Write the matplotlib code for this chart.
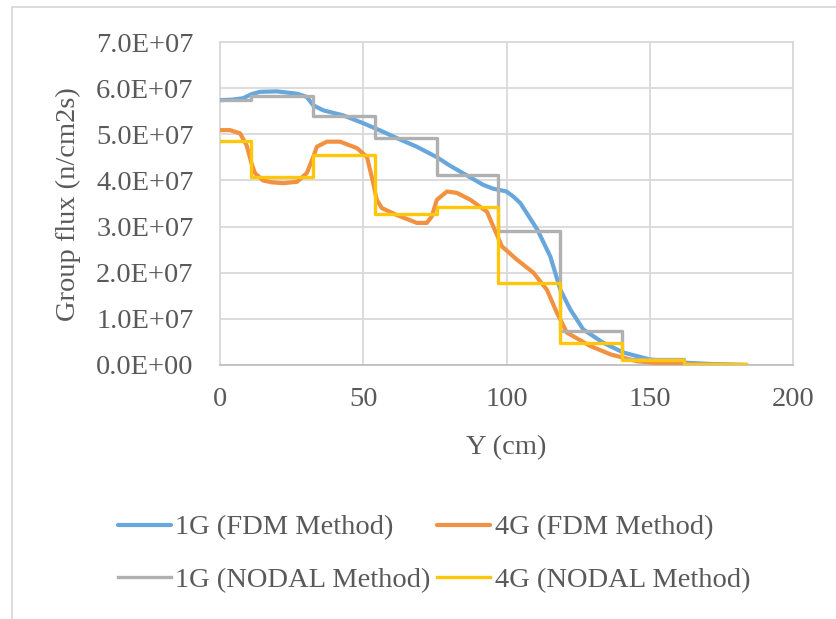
import numpy as np
import matplotlib
matplotlib.use("Agg")
import matplotlib.pyplot as plt
from matplotlib.lines import Line2D
from matplotlib.ticker import FuncFormatter, MultipleLocator

# 1G FDM (blue)
fdm1_x = [0, 4, 8, 11, 14, 19.8, 26.8, 30.3, 32.5, 36, 43, 50, 56, 62, 68.7, 75.8,
          80, 85, 92, 95.4, 97.8, 100, 102.4, 104.8, 107.5, 110.8, 115.3, 118.8,
          122.3, 126.8, 133.8, 140.8, 150, 162, 172, 183.6]
fdm1_y = [5.74, 5.75, 5.78, 5.87, 5.92, 5.93, 5.88, 5.81, 5.63, 5.52, 5.41, 5.24,
          5.08, 4.91, 4.73, 4.50, 4.33, 4.15, 3.90, 3.82, 3.79, 3.76, 3.65, 3.51,
          3.25, 2.93, 2.35, 1.63, 1.20, 0.77, 0.48, 0.27, 0.12, 0.05, 0.02, 0.0]

# 4G FDM (orange)
fdm4_x = [0, 3.5, 7, 9.3, 11, 12.2, 15, 18, 22, 26.9, 30.3, 32.5, 33.8, 37.3, 41.9,
          47.8, 51.3, 52.4, 53.5, 54.7, 56.5, 61.7, 68.7, 72.2, 73.9, 75.7, 79.2,
          82.7, 87.4, 93.2, 95.4, 98.4, 103.7, 109.4, 114.1, 117.6, 121.1, 129.3,
          136.3, 145.6, 155, 165, 183.6]
fdm4_y = [5.09, 5.09, 5.02, 4.76, 4.37, 4.16, 4.00, 3.96, 3.94, 3.97, 4.16, 4.50,
          4.73, 4.84, 4.84, 4.70, 4.51, 4.22, 3.94, 3.58, 3.40, 3.25, 3.08, 3.08,
          3.22, 3.58, 3.76, 3.73, 3.58, 3.32, 3.00, 2.57, 2.28, 2.00, 1.63, 1.13,
          0.70, 0.41, 0.23, 0.08, 0.03, 0.01, 0.0]

# nodal averages per node
node_edges = [0, 10.8, 32.4, 54, 75.6, 97.2, 118.8, 140.4, 162, 183.6]
nodal1 = [5.74, 5.83, 5.39, 4.93, 4.12, 2.91, 0.73, 0.12, 0.03]
nodal4 = [4.86, 4.08, 4.55, 3.27, 3.43, 1.78, 0.48, 0.10, 0.03]

scale = 1e7
txt = "#595959"
grid_c = "#d9d9d9"

plt.rcParams["font.family"] = ["Liberation Serif", "DejaVu Serif"]
fs = 20.5

fig = plt.figure(figsize=(8.37, 6.19), dpi=100)
ax = fig.add_axes([220 / 837, 1 - 365 / 619, 573 / 837, 323 / 619])

ax.plot(fdm1_x, np.array(fdm1_y) * scale, color="#67A7DC", lw=3.0,
        solid_capstyle="round", label="1G (FDM Method)", zorder=3)
ax.plot(fdm4_x, np.array(fdm4_y) * scale, color="#F29141", lw=3.0,
        solid_capstyle="round", label="4G (FDM Method)", zorder=3)
ax.plot(node_edges, np.append(nodal1, nodal1[-1]) * scale, drawstyle="steps-post",
        color="#B0B0B0", lw=2.4, label="1G (NODAL Method)", zorder=4)
ax.plot(node_edges, np.append(nodal4, nodal4[-1]) * scale, drawstyle="steps-post",
        color="#FFC60A", lw=2.4, label="4G (NODAL Method)", zorder=5)

ax.set_xlim(0, 200)
ax.set_ylim(0, 7e7)
ax.xaxis.set_major_locator(MultipleLocator(50))
ax.yaxis.set_major_locator(MultipleLocator(1e7))
ax.yaxis.set_major_formatter(FuncFormatter(lambda v, p: f"{v:.1E}"))
ax.grid(True, color=grid_c, lw=1.3)
ax.set_axisbelow(True)
for s in ["top", "right", "left"]:
    ax.spines[s].set_color(grid_c)
    ax.spines[s].set_linewidth(1.3)
ax.spines["bottom"].set_color("#bfbfbf")
ax.spines["bottom"].set_linewidth(1.3)
ax.tick_params(length=0, labelsize=fs, colors=txt)
ax.tick_params(axis="x", pad=16)
ax.tick_params(axis="y", pad=19)

fig.text(506 / 837, 1 - 448 / 619, "Y (cm)", ha="center", va="center",
         fontsize=fs, color=txt)
fig.text(68 / 837, 1 - 204 / 619, "Group flux (n/cm2s)", ha="center", va="center",
         rotation=90, fontsize=fs, color=txt)

h, l = ax.get_legend_handles_labels()
order = [0, 2, 1, 3]
fig.legend([h[i] for i in order], [l[i] for i in order], ncol=2, frameon=False,
           loc="center", bbox_to_anchor=(434 / 837, 1 - 554 / 619),
           fontsize=fs, labelcolor=txt, handlelength=1.86, handletextpad=0.15,
           columnspacing=0.25, labelspacing=0.95, borderpad=0)

# chart area border
fig.add_artist(Line2D([12 / 837, 12 / 837], [0, 1 - 7 / 619], color=grid_c,
                      lw=1.3, transform=fig.transFigure))
fig.add_artist(Line2D([12 / 837, 1], [1 - 7 / 619, 1 - 7 / 619], color=grid_c,
                      lw=1.3, transform=fig.transFigure))

fig.savefig("out.png", dpi=100)
